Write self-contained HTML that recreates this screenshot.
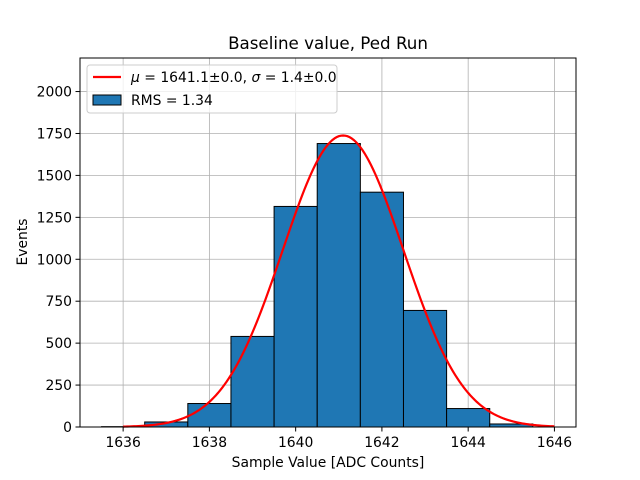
<!DOCTYPE html>
<html><head><meta charset="utf-8"><style>
body{margin:0;background:#fff;}
svg{display:block;font-family:"DejaVu Sans","Liberation Sans",sans-serif;}
</style></head><body>
<svg id="c" width="640" height="480"></svg>
<script>
const binLefts=[1635.5,1636.5,1637.5,1638.5,1639.5,1640.5,1641.5,1642.5,1643.5,1644.5];
const counts=[2,30,140,540,1315,1690,1400,695,110,18];
const xTicks=[1636,1638,1640,1642,1644,1646];
const yTicks=[0,250,500,750,1000,1250,1500,1750,2000];
const fitMu=[1641.1];
const fitSigma=[1.4];
const fitAmp=[1738];
const L=80,R=576,T=58,B=427,xmin=1635,xmax=1646.5,ymin=0,ymax=2200;
const X=v=>L+(v-xmin)/(xmax-xmin)*(R-L);
const Y=v=>B-(v-ymin)/(ymax-ymin)*(B-T);
const s=document.getElementById('c');
const NS='http://www.w3.org/2000/svg';
function mk(t,a,txt){const e=document.createElementNS(NS,t);for(const k in a)e.setAttribute(k,a[k]);if(txt!=null)e.textContent=txt;s.appendChild(e);return e;}
xTicks.forEach(t=>{const e=mk('line',{x1:X(t),x2:X(t),y1:T,y2:B,stroke:'#b0b0b0','stroke-width':0.8});

});
yTicks.forEach(t=>{const e=mk('line',{x1:L,x2:R,y1:Y(t),y2:Y(t),stroke:'#b0b0b0','stroke-width':0.8});

});
binLefts.forEach((b,i)=>{const e=mk('rect',{x:X(b),y:Y(counts[i]),width:X(b+1)-X(b),height:Y(0)-Y(counts[i]),fill:'#1f77b4',stroke:'#000','stroke-width':1});

});
let d='';for(let i=0;i<=200;i++){const v=1636+i*10/200;const yv=fitAmp[0]*Math.exp(-0.5*Math.pow((v-fitMu[0])/fitSigma[0],2));d+=(i?'L':'M')+X(v).toFixed(2)+','+Y(yv).toFixed(2);}
const fl=mk('path',{d:d,fill:'none',stroke:'red','stroke-width':2.2});


const fr=mk('rect',{x:L,y:T,width:R-L,height:B-T,fill:'none',stroke:'#000','stroke-width':1});


xTicks.forEach(t=>{mk('line',{x1:X(t),x2:X(t),y1:B,y2:B+4.5,stroke:'#000'});
const e=mk('text',{x:X(t),y:B+20,'text-anchor':'middle','font-size':13.9},t);

});
yTicks.forEach(t=>{mk('line',{x1:L-4.5,x2:L,y1:Y(t),y2:Y(t),stroke:'#000'});
const e=mk('text',{x:L-8,y:Y(t)+5,'text-anchor':'end','font-size':13.9},t);

});
</script>
<svg style="position:absolute;left:0;top:0" width="640" height="480">
<text x="328" y="49" text-anchor="middle" font-size="16.7">Baseline value, Ped Run</text>
<text x="328" y="467" text-anchor="middle" font-size="13.9">Sample Value [ADC Counts]</text>
<text transform="translate(27,242) rotate(-90)" text-anchor="middle" font-size="13.9">Events</text>
<g>
<rect x="87" y="65" width="250" height="48" rx="3" fill="#fff" fill-opacity="0.8" stroke="#ccc"/>
<line x1="93" x2="121" y1="77" y2="77" stroke="red" stroke-width="2.2"/>
<text x="131" y="82" font-size="13.9"><tspan font-style="italic">μ</tspan> = 1641.1±0.0, <tspan font-style="italic">σ</tspan> = 1.4±0.0</text>
<rect x="93" y="95" width="28" height="10" fill="#1f77b4" stroke="#000"/>
<text x="131" y="105" font-size="13.9">RMS = 1.34</text>
</g>
</svg>
</body></html>
